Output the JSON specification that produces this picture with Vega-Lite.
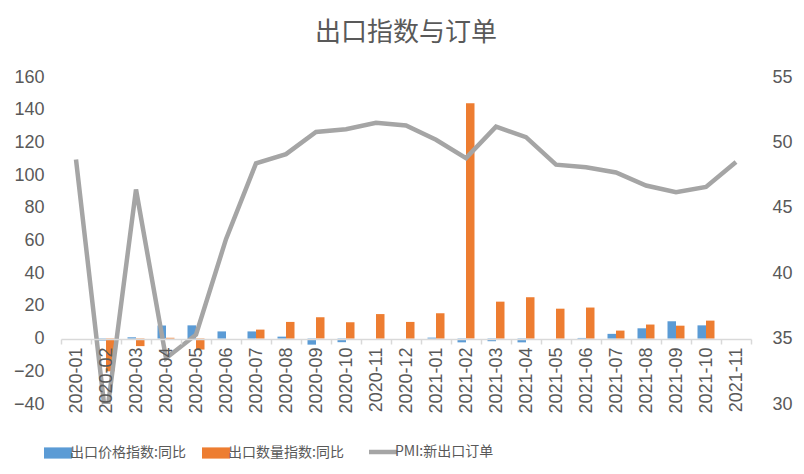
{
  "$schema": "https://vega.github.io/schema/vega-lite/v6.json",
  "width": 690,
  "height": 327,
  "autosize": "none",
  "padding": {"left": 61, "top": 77, "right": 53, "bottom": 70},
  "title": {
    "text": "出口指数与订单",
    "font": "Noto Sans CJK SC",
    "fontSize": 26,
    "fontWeight": "normal",
    "color": "#595959",
    "offset": 22
  },
  "datasets": {
    "bars": [
      {"month": "2020-02", "series": "出口价格指数:同比", "value": -1.2},
      {"month": "2020-03", "series": "出口价格指数:同比", "value": 0.8},
      {"month": "2020-04", "series": "出口价格指数:同比", "value": 8},
      {"month": "2020-05", "series": "出口价格指数:同比", "value": 8.1},
      {"month": "2020-06", "series": "出口价格指数:同比", "value": 4.4},
      {"month": "2020-07", "series": "出口价格指数:同比", "value": 4.4},
      {"month": "2020-08", "series": "出口价格指数:同比", "value": 1.2},
      {"month": "2020-09", "series": "出口价格指数:同比", "value": -3.7},
      {"month": "2020-10", "series": "出口价格指数:同比", "value": -2.2},
      {"month": "2020-11", "series": "出口价格指数:同比", "value": 0},
      {"month": "2020-12", "series": "出口价格指数:同比", "value": 0},
      {"month": "2021-01", "series": "出口价格指数:同比", "value": 0.6},
      {"month": "2021-02", "series": "出口价格指数:同比", "value": -2.3},
      {"month": "2021-03", "series": "出口价格指数:同比", "value": -1.6},
      {"month": "2021-04", "series": "出口价格指数:同比", "value": -2.3},
      {"month": "2021-05", "series": "出口价格指数:同比", "value": 0},
      {"month": "2021-06", "series": "出口价格指数:同比", "value": 0.4},
      {"month": "2021-07", "series": "出口价格指数:同比", "value": 2.9},
      {"month": "2021-08", "series": "出口价格指数:同比", "value": 6.3},
      {"month": "2021-09", "series": "出口价格指数:同比", "value": 10.6},
      {"month": "2021-10", "series": "出口价格指数:同比", "value": 8.1},
      {"month": "2020-02", "series": "出口数量指数:同比", "value": -20},
      {"month": "2020-03", "series": "出口数量指数:同比", "value": -4.6},
      {"month": "2020-04", "series": "出口数量指数:同比", "value": 0.5},
      {"month": "2020-05", "series": "出口数量指数:同比", "value": -6.7},
      {"month": "2020-06", "series": "出口数量指数:同比", "value": 0},
      {"month": "2020-07", "series": "出口数量指数:同比", "value": 5.5},
      {"month": "2020-08", "series": "出口数量指数:同比", "value": 10.2},
      {"month": "2020-09", "series": "出口数量指数:同比", "value": 13},
      {"month": "2020-10", "series": "出口数量指数:同比", "value": 10},
      {"month": "2020-11", "series": "出口数量指数:同比", "value": 15},
      {"month": "2020-12", "series": "出口数量指数:同比", "value": 10.2},
      {"month": "2021-01", "series": "出口数量指数:同比", "value": 15.5},
      {"month": "2021-02", "series": "出口数量指数:同比", "value": 144},
      {"month": "2021-03", "series": "出口数量指数:同比", "value": 22.6},
      {"month": "2021-04", "series": "出口数量指数:同比", "value": 25.3},
      {"month": "2021-05", "series": "出口数量指数:同比", "value": 18.3},
      {"month": "2021-06", "series": "出口数量指数:同比", "value": 19},
      {"month": "2021-07", "series": "出口数量指数:同比", "value": 4.9},
      {"month": "2021-08", "series": "出口数量指数:同比", "value": 8.6},
      {"month": "2021-09", "series": "出口数量指数:同比", "value": 7.9},
      {"month": "2021-10", "series": "出口数量指数:同比", "value": 11}
    ],
    "pmi": [
      {"month": "2020-01", "series": "PMI:新出口订单", "pmi": 48.7},
      {"month": "2020-02", "series": "PMI:新出口订单", "pmi": 28.7},
      {"month": "2020-03", "series": "PMI:新出口订单", "pmi": 46.4},
      {"month": "2020-04", "series": "PMI:新出口订单", "pmi": 33.5},
      {"month": "2020-05", "series": "PMI:新出口订单", "pmi": 35.3},
      {"month": "2020-06", "series": "PMI:新出口订单", "pmi": 42.6},
      {"month": "2020-07", "series": "PMI:新出口订单", "pmi": 48.4},
      {"month": "2020-08", "series": "PMI:新出口订单", "pmi": 49.1},
      {"month": "2020-09", "series": "PMI:新出口订单", "pmi": 50.8},
      {"month": "2020-10", "series": "PMI:新出口订单", "pmi": 51.0},
      {"month": "2020-11", "series": "PMI:新出口订单", "pmi": 51.5},
      {"month": "2020-12", "series": "PMI:新出口订单", "pmi": 51.3},
      {"month": "2021-01", "series": "PMI:新出口订单", "pmi": 50.2},
      {"month": "2021-02", "series": "PMI:新出口订单", "pmi": 48.8},
      {"month": "2021-03", "series": "PMI:新出口订单", "pmi": 51.2},
      {"month": "2021-04", "series": "PMI:新出口订单", "pmi": 50.4},
      {"month": "2021-05", "series": "PMI:新出口订单", "pmi": 48.3},
      {"month": "2021-06", "series": "PMI:新出口订单", "pmi": 48.1},
      {"month": "2021-07", "series": "PMI:新出口订单", "pmi": 47.7},
      {"month": "2021-08", "series": "PMI:新出口订单", "pmi": 46.7},
      {"month": "2021-09", "series": "PMI:新出口订单", "pmi": 46.2},
      {"month": "2021-10", "series": "PMI:新出口订单", "pmi": 46.6},
      {"month": "2021-11", "series": "PMI:新出口订单", "pmi": 48.5}
    ]
  },
  "layer": [
    {
      "data": {"name": "bars"},
      "mark": {"type": "bar"},
      "encoding": {
        "x": {
          "field": "month",
          "type": "nominal",
          "scale": {"paddingInner": 0, "paddingOuter": 0},
          "axis": {
            "title": null,
            "orient": "bottom",
            "offset": -65,
            "labelAngle": 270,
            "labelFontSize": 18,
            "labelPadding": 3,
            "labelOverlap": false,
            "tickBand": "extent",
            "tickSize": 5,
            "tickWidth": 1.5,
            "tickColor": "#D9D9D9",
            "domainColor": "#D9D9D9",
            "domainWidth": 1.5,
            "zindex": 1
          }
        },
        "xOffset": {
          "field": "series",
          "type": "nominal",
          "sort": ["出口价格指数:同比", "出口数量指数:同比"],
          "scale": {"paddingInner": 0, "paddingOuter": 0.765}
        },
        "y": {
          "field": "value",
          "type": "quantitative",
          "scale": {"domain": [-40, 160], "nice": false, "zero": false},
          "axis": {
            "title": null,
            "orient": "left",
            "values": [-40, -20, 0, 20, 40, 60, 80, 100, 120, 140, 160],
            "grid": false,
            "domain": false,
            "ticks": false,
            "labelPadding": 17,
            "labelFontSize": 18
          }
        },
        "color": {
          "field": "series",
          "type": "nominal",
          "scale": {
            "domain": ["出口价格指数:同比", "出口数量指数:同比", "PMI:新出口订单"],
            "range": ["#5B9BD5", "#ED7D31", "#A5A5A5"]
          },
          "legend": {
            "title": null,
            "orient": "none",
            "direction": "horizontal",
            "legendX": -10,
            "legendY": 368,
            "symbolType": "M-1,-0.4H1V0.4H-1Z",
            "symbolSize": 784,
            "symbolStrokeWidth": 0,
            "labelFont": "Noto Sans CJK SC",
            "labelFontSize": 14,
            "labelColor": "#595959",
            "labelOffset": 5,
            "labelLimit": 300,
            "columnPadding": 16,
            "encode": {
              "symbols": {
                "update": {
                  "shape": {"signal": "datum.value === 'PMI:新出口订单' ? 'M-1,0H1' : 'M-1,-0.4H1V0.4H-1Z'"},
                  "fill": {"scale": "color", "field": "value"},
                  "stroke": {"scale": "color", "field": "value"},
                  "strokeWidth": {"signal": "datum.value === 'PMI:新出口订单' ? 4.5 : 0"},
                  "opacity": {"value": 1}
                }
              }
            }
          }
        }
      }
    },
    {
      "data": {"name": "pmi"},
      "mark": {"type": "line", "strokeWidth": 4.5, "clip": true},
      "encoding": {
        "x": {"field": "month", "type": "nominal"},
        "y": {
          "field": "pmi",
          "type": "quantitative",
          "scale": {"domain": [30, 55], "nice": false, "zero": false},
          "axis": {
            "title": null,
            "orient": "right",
            "values": [30, 35, 40, 45, 50, 55],
            "grid": false,
            "domain": false,
            "ticks": false,
            "labelPadding": 21,
            "labelFontSize": 18
          }
        },
        "color": {"field": "series", "type": "nominal"}
      }
    }
  ],
  "resolve": {"scale": {"y": "independent"}},
  "config": {
    "view": {"stroke": null},
    "font": "Liberation Sans",
    "axis": {"labelColor": "#595959", "labelFont": "Liberation Sans"}
  }
}
